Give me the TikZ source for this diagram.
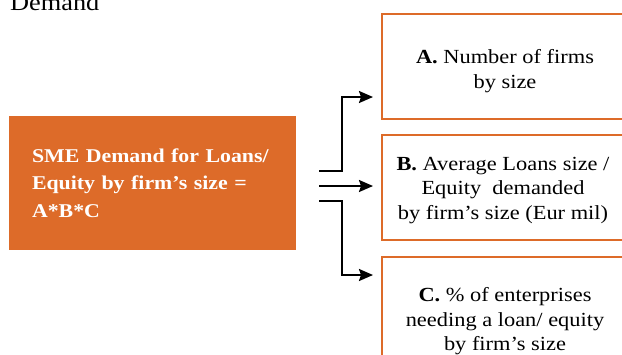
\documentclass[tikz,border=0pt]{standalone}
\usepackage{fontspec}
\setmainfont[FakeStretch=1.12]{Liberation Serif}
\usetikzlibrary{arrows.meta}
\definecolor{smeorange}{RGB}{221,107,41}
\tikzset{
  orangebox/.style={draw=smeorange, line width=2.5pt, fill=white, minimum width=246pt, minimum height=105pt, inner sep=0pt, outer sep=0pt},
  boxtext/.style={inner sep=0pt, align=center, font=\fontsize{20}{24.5}\selectfont},
  mainbox/.style={fill=smeorange, minimum width=287pt, minimum height=134pt, inner sep=0pt, outer sep=0pt, text=white, align=left, text width=241pt, font=\fontsize{19.5}{27.5}\selectfont\bfseries},
  arr/.style={line width=2pt, -{Stealth[length=14pt,width=12pt,inset=2pt]}, shorten >=9pt}
}
\begin{document}
\begin{tikzpicture}[x=1pt,y=-1pt]
\useasboundingbox (0,0) rectangle (622,354);
\clip (0,0) rectangle (622,354);
\node[anchor=base west, inner sep=0pt, font=\fontsize{23.5}{28}\selectfont] (title) at (10,10) {Demand};
\node[mainbox] (sme) at (152.5,183) {SME Demand for Loans/\\Equity by firm’s size =\\A*B*C};
\node[orangebox] (boxA) at (505,66.5) {};
\node[orangebox] (boxB) at (505,187.5) {};
\node[orangebox, minimum height=126pt] (boxC) at (505,320) {};
\node[boxtext] (txtA) at (505,71) {\textbf{A.} Number of firms\\by size};
\node[boxtext] (txtB) at (503,190.5) {\textbf{B.} Average Loans size /\\Equity\ \ demanded\\by firm’s size (Eur mil)};
\node[boxtext] (txtC) at (505,321.5) {\textbf{C.} \% of enterprises\\needing a loan/ equity\\by firm’s size};
\coordinate (c1) at (319,171);
\coordinate (c2) at (319,186);
\coordinate (c3) at (319,201);
\coordinate (tA) at (0,97);
\coordinate (tC) at (0,275);
\draw[arr] (c1) -- ++(23,0) |- (boxA.west |- tA);
\draw[arr] (c2) -- (boxB.west |- c2);
\draw[arr] (c3) -- ++(23,0) |- (boxC.west |- tC);
\end{tikzpicture}
\end{document}
